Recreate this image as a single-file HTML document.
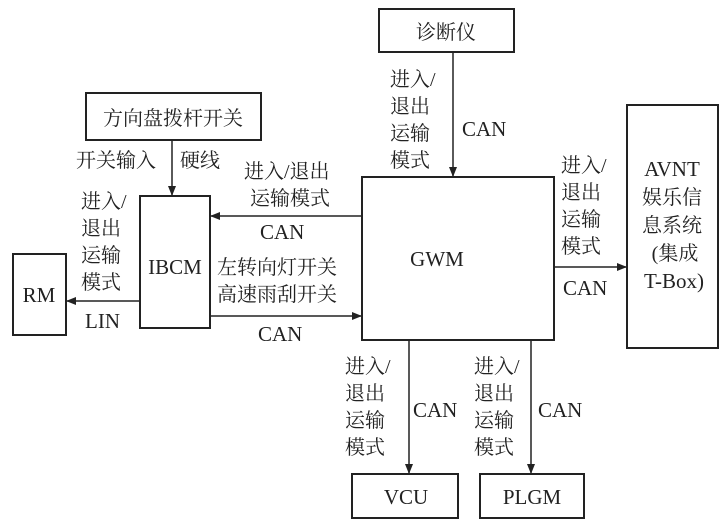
<!DOCTYPE html>
<html><head><meta charset="utf-8"><style>
html,body{margin:0;padding:0;background:#fff}
svg{display:block}
text{font-family:"Liberation Serif","Noto Serif CJK SC","Noto Sans CJK SC",serif;font-size:20px;fill:#222}
.l{font-size:21px}
</style></head><body>
<svg width="720" height="522" viewBox="0 0 720 522">
<defs><marker id="a" markerWidth="10" markerHeight="8" refX="9" refY="4" orient="auto" markerUnits="userSpaceOnUse"><path d="M0,0 L10,4 L0,8 Z" fill="#222"/></marker></defs>
<g fill="none" stroke="#222" stroke-width="2">
<rect x="379" y="9" width="135" height="43"/>
<rect x="362" y="177" width="192" height="163"/>
<rect x="627" y="105" width="91" height="243"/>
<rect x="86" y="93" width="175" height="47"/>
<rect x="140" y="196" width="70" height="132"/>
<rect x="13" y="254" width="53" height="81"/>
<rect x="352" y="474" width="106" height="44"/>
<rect x="480" y="474" width="104" height="44"/>
<g stroke-width="1.5">
<line x1="453" y1="52" x2="453" y2="176" marker-end="url(#a)"/>
<line x1="554" y1="267" x2="626" y2="267" marker-end="url(#a)"/>
<line x1="172" y1="140" x2="172" y2="195" marker-end="url(#a)"/>
<line x1="362" y1="216" x2="211" y2="216" marker-end="url(#a)"/>
<line x1="210" y1="316" x2="361" y2="316" marker-end="url(#a)"/>
<line x1="140" y1="301" x2="67" y2="301" marker-end="url(#a)"/>
<line x1="409" y1="340" x2="409" y2="473" marker-end="url(#a)"/>
<line x1="531" y1="340" x2="531" y2="473" marker-end="url(#a)"/>
</g></g>
<text x="446" y="39" text-anchor="middle">诊断仪</text>
<text x="390" y="86">进入/</text><text x="390" y="113">退出</text><text x="390" y="140">运输</text><text x="390" y="167">模式</text>
<text class="l" x="462" y="136">CAN</text>
<text class="l" x="437" y="266" text-anchor="middle">GWM</text>
<text x="561" y="172">进入/</text><text x="561" y="199">退出</text><text x="561" y="226">运输</text><text x="561" y="253">模式</text>
<text class="l" x="563" y="295">CAN</text>
<text class="l" x="672" y="176" text-anchor="middle">AVNT</text>
<text x="672" y="204" text-anchor="middle">娱乐信</text>
<text x="672" y="232" text-anchor="middle">息系统</text>
<text x="675" y="260" text-anchor="middle">(集成</text>
<text class="l" x="674" y="288" text-anchor="middle">T-Box)</text>
<text x="173" y="125" text-anchor="middle">方向盘拨杆开关</text>
<text x="76" y="167">开关输入</text><text x="180" y="167">硬线</text>
<text x="244" y="178">进入/退出</text><text x="250" y="205">运输模式</text>
<text class="l" x="260" y="239">CAN</text>
<text x="81" y="208">进入/</text><text x="81" y="235">退出</text><text x="81" y="262">运输</text><text x="81" y="289">模式</text>
<text class="l" x="175" y="274" text-anchor="middle">IBCM</text>
<text class="l" x="39" y="302" text-anchor="middle">RM</text>
<text class="l" x="85" y="328">LIN</text>
<text x="217" y="274">左转向灯开关</text><text x="217" y="301">高速雨刮开关</text>
<text class="l" x="258" y="341">CAN</text>
<text x="345" y="373">进入/</text><text x="345" y="400">退出</text><text x="345" y="427">运输</text><text x="345" y="454">模式</text>
<text class="l" x="413" y="417">CAN</text>
<text x="474" y="373">进入/</text><text x="474" y="400">退出</text><text x="474" y="427">运输</text><text x="474" y="454">模式</text>
<text class="l" x="538" y="417">CAN</text>
<text class="l" x="406" y="504" text-anchor="middle">VCU</text>
<text class="l" x="532" y="504" text-anchor="middle">PLGM</text>
</svg>
</body></html>
